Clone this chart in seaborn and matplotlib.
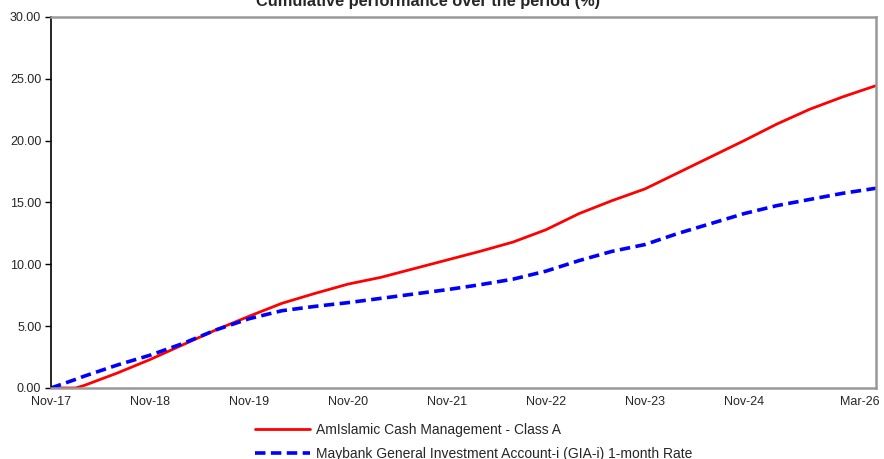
import pandas as pd
import seaborn as sns
import matplotlib.pyplot as plt
import matplotlib.transforms as mtransforms

# months since Nov-17
months = [0, 3, 4, 8, 12, 16, 20, 24, 28, 32, 36, 40, 44, 48, 52, 56, 60,
          64, 68, 72, 76, 80, 84, 88, 92, 96, 100]
fund = [0.0, 0.0, 0.2, 1.2, 2.3, 3.5, 4.7, 5.8, 6.85, 7.65, 8.4, 8.95, 9.65,
        10.35, 11.05, 11.8, 12.8, 14.1, 15.15, 16.1, 17.4, 18.7, 20.0, 21.35,
        22.55, 23.55, 24.45]
bench = [0.0, 0.7, 0.95, 1.85, 2.65, 3.6, 4.7, 5.6, 6.25, 6.6, 6.9, 7.25, 7.6,
         7.95, 8.35, 8.8, 9.45, 10.3, 11.05, 11.6, 12.5, 13.3, 14.1, 14.75,
         15.25, 15.75, 16.15]

fund_name = 'AmIslamic Cash Management - Class A'
bench_name = 'Maybank General Investment Account-i (GIA-i) 1-month Rate'

tick_pos = [0, 12, 24, 36, 48, 60, 72, 84, 100]
tick_labels = ['Nov-17', 'Nov-18', 'Nov-19', 'Nov-20', 'Nov-21', 'Nov-22',
               'Nov-23', 'Nov-24', 'Mar-26']

df = pd.DataFrame({'month': months, 'fund': fund, 'bench': bench})

sns.set_style('white')
plt.rcParams['font.family'] = ['Liberation Sans', 'DejaVu Sans']

fig = plt.figure(figsize=(8.84, 4.59), dpi=100)
ax = fig.add_axes([0.0577, 0.1547, 0.9333, 0.8083])

sns.lineplot(data=df, x='month', y='fund', ax=ax, color='#ff0000',
             linewidth=2.0, label=fund_name)
sns.lineplot(data=df, x='month', y='bench', ax=ax, color='#0000ff',
             linewidth=2.6, label=bench_name)
ax.lines[1].set_dashes([2.9, 1.5])

ax.set_xlim(0, 100)
ax.set_ylim(0, 30)
ax.set_xticks(tick_pos)
ax.set_xticklabels(tick_labels)
ax.set_yticks(range(0, 31, 5))
ax.set_yticklabels([f'{v:.2f}' for v in range(0, 31, 5)])
ax.set_xlabel('')
ax.set_ylabel('')
ax.tick_params(axis='x', length=0, pad=6, labelsize=9)
ax.tick_params(axis='y', left=True, length=4, width=1, color='black', pad=3,
               labelsize=9)

# last label sits against the right edge
last = ax.get_xticklabels()[-1]
last.set_horizontalalignment('right')
last.set_transform(last.get_transform() +
                   mtransforms.ScaledTranslation(4 / 100, 0, fig.dpi_scale_trans))

ax.spines['left'].set_color('black')
ax.spines['left'].set_linewidth(1.2)
for s in ['top', 'right', 'bottom']:
    ax.spines[s].set_color('#999999')
    ax.spines[s].set_linewidth(1.8)

ax.get_legend().remove()
handles, labels = ax.get_legend_handles_labels()
fig.legend(handles, labels, loc='upper left', bbox_to_anchor=(0.2885, 0.079),
           frameon=False, fontsize=10, handlelength=3.95, handletextpad=0.43,
           labelspacing=0.75, borderpad=0, borderaxespad=0)

fig.text(0.484, 0.987, 'Cumulative performance over the period (%)',
         ha='center', va='baseline', fontsize=11.8, fontweight='bold')

fig.savefig('out.png', dpi=100)
